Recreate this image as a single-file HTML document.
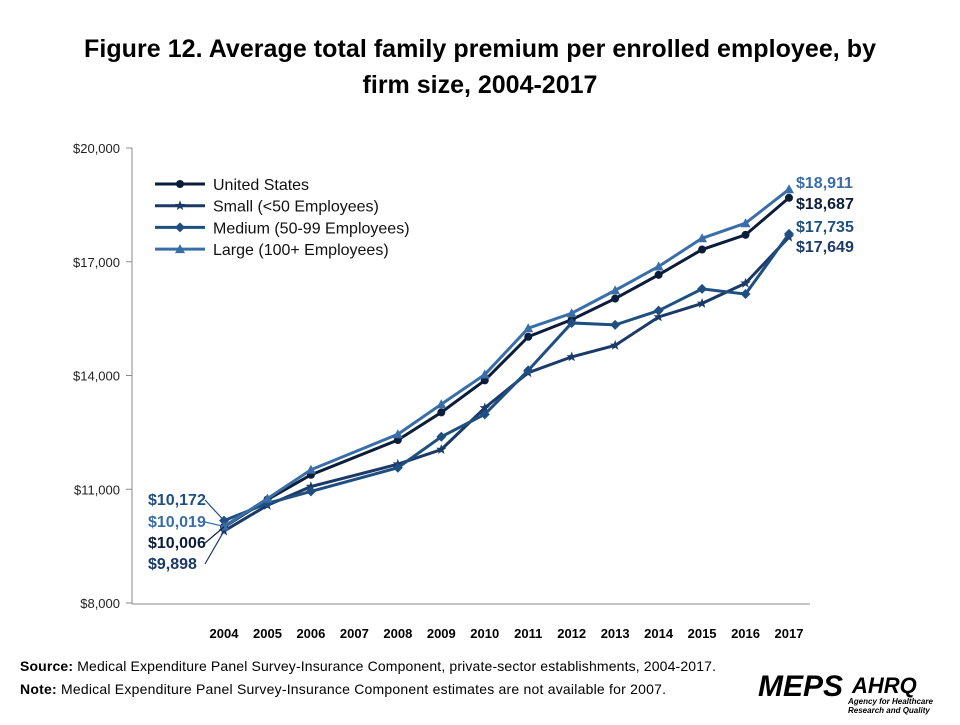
<!DOCTYPE html>
<html><head><meta charset="utf-8"><style>
body{margin:0;background:#fff;}
svg text{font-family:"Liberation Sans",Arial,sans-serif;}
</style></head><body>
<svg id="chart" width="960" height="720" viewBox="0 0 960 720">
<text x="480" y="57" text-anchor="middle" font-size="25" font-weight="bold" fill="#000" textLength="792">Figure 12. Average total family premium per enrolled employee, by</text>
<text x="480" y="93" text-anchor="middle" font-size="25" font-weight="bold" fill="#000">firm size, 2004-2017</text>
<g id="axes"></g>
<g id="series"></g>
<g id="legend"></g>
<g id="labels"></g>
<text x="20" y="671" font-size="14" fill="#000" textLength="696"><tspan font-weight="bold">Source:</tspan> Medical Expenditure Panel Survey-Insurance Component,  private-sector establishments, 2004-2017.</text>
<text x="20" y="694" font-size="14" fill="#000" textLength="646"><tspan font-weight="bold">Note:</tspan> Medical Expenditure Panel Survey-Insurance Component  estimates are not available for 2007.</text>
<text x="758" y="696" font-size="30" font-weight="bold" font-style="italic" fill="#000">MEPS</text>
<text x="852" y="693" font-size="22" font-weight="bold" font-style="italic" fill="#000">AHRQ</text>
<text x="848" y="704" font-size="8" font-style="italic" font-weight="bold" fill="#000">Agency for Healthcare</text>
<text x="848" y="713" font-size="8" font-style="italic" font-weight="bold" fill="#000">Research and Quality</text>
</svg>
<script>
const years=[2004,2005,2006,2007,2008,2009,2010,2011,2012,2013,2014,2015,2016,2017];
const yTicks=[8000,11000,14000,17000,20000];
const usValues=[10006,10728,11381,null,12298,13027,13871,15022,15473,16029,16655,17322,17710,18687];
const smallValues=[9898,10577,11070,null,11660,12048,13146,14073,14491,14795,15544,15901,16434,17649];
const mediumValues=[10172,10631,10943,null,11567,12383,12976,14136,15386,15335,15710,16285,16148,17735];
const largeValues=[10019,10752,11513,null,12450,13241,14025,15247,15642,16245,16876,17619,18016,18911];
const seriesNames=["United States","Small (<50 Employees)","Medium (50-99 Employees)","Large (100+ Employees)"];
const NS="http://www.w3.org/2000/svg";
const x=i=>224+i*(789-224)/13;
const y=v=>603-(v-8000)*(603-148)/12000;
function mk(tag,attrs,parent,text){const e=document.createElementNS(NS,tag);for(const k in attrs)e.setAttribute(k,attrs[k]);if(text!==undefined)e.textContent=text;parent.appendChild(e);return e;}
const axes=document.getElementById('axes');
let a=mk('line',{x1:132,y1:148,x2:132,y2:604,stroke:'#888','stroke-width':1},axes);

a=mk('line',{x1:132,y1:604,x2:810,y2:604,stroke:'#888','stroke-width':1},axes);

yTicks.forEach(v=>{
 let t=mk('line',{x1:126,x2:132,y1:y(v),y2:y(v),stroke:'#888'},axes);
 
 let l=mk('text',{x:120,y:y(v)+5,'text-anchor':'end','font-size':13,fill:'#222'},axes,'$'+v.toLocaleString('en-US'));
 
});
years.forEach((yr,i)=>{
 let l=mk('text',{x:x(i),y:638,'text-anchor':'middle','font-size':13,'font-weight':'bold',fill:'#000'},axes,yr);
 
});
const colors=["#0c1d3a","#1b3a68","#1f4f80","#3a6ea8"];
const markers=["circle","star","diamond","triangle"];
const data=[usValues,smallValues,mediumValues,largeValues];
const sg=document.getElementById('series');
function marker(type,cx,cy,c,g){
 if(type==='circle')return mk('circle',{cx,cy,r:4,fill:c},g);
 if(type==='diamond')return mk('polygon',{points:`${cx},${cy-5} ${cx+5},${cy} ${cx},${cy+5} ${cx-5},${cy}`,fill:c},g);
 if(type==='triangle')return mk('polygon',{points:`${cx},${cy-5} ${cx+5},${cy+4} ${cx-5},${cy+4}`,fill:c},g);
 let p=[];for(let k=0;k<10;k++){const r=k%2?2.2:5.5,an=-Math.PI/2+k*Math.PI/5;p.push((cx+r*Math.cos(an)).toFixed(1)+','+(cy+r*Math.sin(an)).toFixed(1));}
 return mk('polygon',{points:p.join(' '),fill:c},g);
}
data.forEach((vals,s)=>{
 const g=mk('g',{},sg);
 
 
 const pts=[];vals.forEach((v,i)=>{if(v!==null)pts.push(x(i)+','+y(v));});
 const pl=mk('polyline',{points:pts.join(' '),fill:'none',stroke:colors[s],'stroke-width':3},g);
 
 vals.forEach((v,i)=>{if(v===null)return;const m=marker(markers[s],x(i),y(v),colors[s],g);
  });
});
const lg=document.getElementById('legend');
seriesNames.forEach((n,s)=>{
 const ly=184+s*21.7;
 const l=mk('line',{x1:155,x2:205,y1:ly,y2:ly,stroke:colors[s],'stroke-width':3},lg);
 
 const m=marker(markers[s],180,ly,colors[s],lg);
 
 const t=mk('text',{x:213,y:ly+6,'font-size':16,fill:'#111'},lg,n);
 
});
const lab=document.getElementById('labels');
const fmt=v=>'$'+v.toLocaleString('en-US');
const leftOrder=[2,3,0,1],leftY=[505,527,548,569];
leftOrder.forEach((s,k)=>{
 const v=data[s][0];
 const t=mk('text',{x:148,y:leftY[k],'font-size':16,'font-weight':'bold',fill:colors[s]},lab,fmt(v));
 
 const ln=mk('line',{x1:205,y1:leftY[k]-5,x2:x(0),y2:y(v),stroke:colors[s],'stroke-width':1.2},lab);
 
});
const rightOrder=[3,0,2,1],rightY=[188,209,232,252];
rightOrder.forEach((s,k)=>{
 const v=data[s][13];
 const t=mk('text',{x:796,y:rightY[k],'font-size':16,'font-weight':'bold',fill:colors[s]},lab,fmt(v));
 
});
</script>
</body></html>
